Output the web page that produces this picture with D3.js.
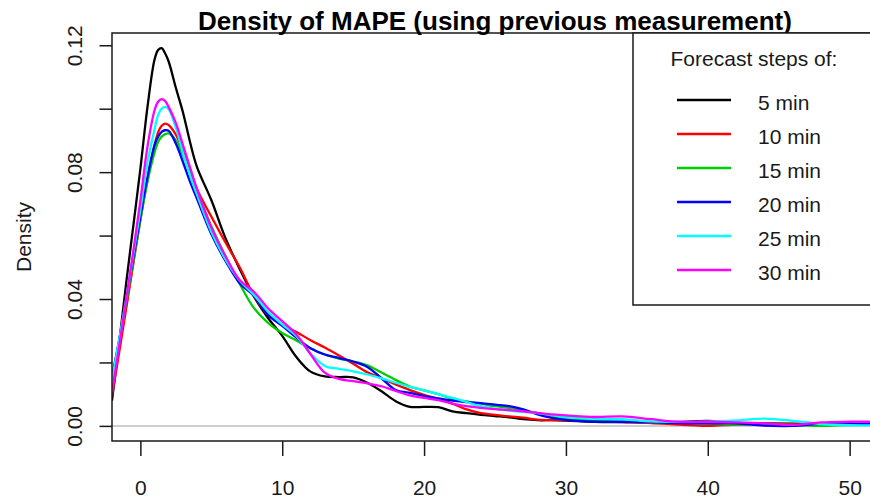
<!DOCTYPE html>
<html>
<head>
<meta charset="utf-8">
<script src="https://cdn.jsdelivr.net/npm/d3@7"></script>
<style>
  html, body { margin: 0; padding: 0; background: #fff; }
  svg { display: block; font-family: "Liberation Sans", Arial, sans-serif; }
</style>
</head>
<body>
<svg id="chart" width="870" height="498"></svg>
<script>
// MAPE grid (percent) on which the kernel density estimates are evaluated
const mape = [-2, -1.5, -1, -0.5, 0, 0.5, 1, 1.25, 1.5, 1.75, 2, 2.5, 3, 3.5, 4,
  5, 6, 7, 8, 9, 10, 11, 12, 13, 14, 15, 16, 17, 18, 19, 20, 21, 22, 23, 24, 25,
  26, 27, 28, 29, 30, 32, 34, 36, 38, 40, 42, 44, 46, 48, 50, 52];

// Density of the MAPE for each forecast horizon
const dens5 = [0.0080, 0.0260, 0.0450, 0.0630, 0.0810, 0.1005, 0.1155, 0.1185, 0.1191, 0.1174, 0.1148, 0.1066, 0.0989, 0.0895, 0.0815,
  0.0712, 0.0592, 0.0495, 0.0408, 0.0340, 0.0284, 0.0217, 0.0171, 0.0156, 0.0154, 0.0153, 0.0136, 0.0109, 0.0078, 0.0060, 0.0060, 0.0059, 0.0046, 0.0040, 0.0035, 0.0031,
  0.0027, 0.0021, 0.0018, 0.0018, 0.0017, 0.0013, 0.0012, 0.0011, 0.0012, 0.0016, 0.0009, 0.0008, 0.0007, 0.0006, 0.0006, 0.0006];
const dens10 = [0.0095, 0.0230, 0.0370, 0.0510, 0.0650, 0.0775, 0.0885, 0.0925, 0.0946, 0.0953, 0.0948, 0.0918, 0.0868, 0.0808, 0.0745,
  0.0660, 0.0578, 0.0500, 0.0412, 0.0350, 0.0319, 0.0296, 0.0270, 0.0247, 0.0222, 0.0196, 0.0169, 0.0150, 0.0131, 0.0113, 0.0098, 0.0085, 0.0070, 0.0052, 0.0040, 0.0035,
  0.0030, 0.0026, 0.0020, 0.0018, 0.0018, 0.0015, 0.0012, 0.0009, 0.0004, 0.0000, 0.0004, 0.0006, 0.0005, 0.0004, 0.0005, 0.0005];
const dens15 = [0.0145, 0.0260, 0.0390, 0.0520, 0.0650, 0.0770, 0.0862, 0.0895, 0.0912, 0.0920, 0.0922, 0.0900, 0.0855, 0.0800, 0.0742,
  0.0630, 0.0535, 0.0448, 0.0372, 0.0325, 0.0293, 0.0269, 0.0244, 0.0225, 0.0212, 0.0203, 0.0191, 0.0168, 0.0145, 0.0124, 0.0112, 0.0100, 0.0085, 0.0077, 0.0070, 0.0062,
  0.0057, 0.0049, 0.0040, 0.0031, 0.0022, 0.0016, 0.0013, 0.0012, 0.0010, 0.0007, 0.0004, 0.0005, 0.0003, 0.0000, 0.0003, 0.0004];
const dens20 = [0.0155, 0.0270, 0.0400, 0.0530, 0.0660, 0.0785, 0.0885, 0.0912, 0.0927, 0.0932, 0.0930, 0.0890, 0.0832, 0.0770, 0.0715,
  0.0605, 0.0520, 0.0450, 0.0410, 0.0350, 0.0315, 0.0278, 0.0245, 0.0225, 0.0214, 0.0203, 0.0186, 0.0150, 0.0113, 0.0104, 0.0094, 0.0087, 0.0080, 0.0075, 0.0072, 0.0067,
  0.0062, 0.0052, 0.0036, 0.0025, 0.0019, 0.0013, 0.0013, 0.0012, 0.0009, 0.0008, 0.0008, 0.0001, 0.0000, 0.0007, 0.0006, 0.0006];
const dens25 = [0.0145, 0.0270, 0.0400, 0.0540, 0.0680, 0.0830, 0.0935, 0.0980, 0.1000, 0.1006, 0.0998, 0.0940, 0.0862, 0.0790, 0.0728,
  0.0612, 0.0525, 0.0458, 0.0413, 0.0360, 0.0320, 0.0283, 0.0228, 0.0189, 0.0180, 0.0172, 0.0162, 0.0150, 0.0136, 0.0123, 0.0112, 0.0100, 0.0088, 0.0075, 0.0062, 0.0054,
  0.0048, 0.0044, 0.0040, 0.0034, 0.0028, 0.0023, 0.0021, 0.0014, 0.0013, 0.0013, 0.0017, 0.0023, 0.0016, 0.0006, 0.0002, 0.0002];
const dens30 = [0.0105, 0.0250, 0.0400, 0.0550, 0.0710, 0.0880, 0.0995, 0.1022, 0.1030, 0.1024, 0.1005, 0.0955, 0.0885, 0.0815, 0.0745,
  0.0625, 0.0535, 0.0460, 0.0423, 0.0371, 0.0330, 0.0288, 0.0226, 0.0168, 0.0148, 0.0141, 0.0134, 0.0125, 0.0110, 0.0096, 0.0088, 0.0081, 0.0070, 0.0062, 0.0057, 0.0053,
  0.0050, 0.0046, 0.0041, 0.0036, 0.0033, 0.0028, 0.0030, 0.0021, 0.0013, 0.0013, 0.0011, 0.0008, 0.0003, 0.0011, 0.0013, 0.0013];

const stepLabels = ["5 min", "10 min", "15 min", "20 min", "25 min", "30 min"];
const stepColors = ["#000000", "#FF0000", "#00CD00", "#0000FF", "#00FFFF", "#FF00FF"];
const xTicks = [0, 10, 20, 30, 40, 50];
const yTicks = [0, 0.02, 0.04, 0.06, 0.08, 0.10, 0.12];
const yLabelled = [0, 0.04, 0.08, 0.12];

const series = [dens5, dens10, dens15, dens20, dens25, dens30].map((d, i) => ({
  label: stepLabels[i],
  color: stepColors[i],
  values: mape.map((m, j) => ({ x: m, y: d[j] }))
}));

// Plot region (right edge lies just beyond the canvas)
const plotLeft = 112, plotRight = 878, plotTop = 33, plotBottom = 441;

const xLim = [0, 50];
const xPad = (xLim[1] - xLim[0]) * 0.04;
const x = d3.scaleLinear().domain([xLim[0] - xPad, xLim[1] + xPad]).range([plotLeft, plotRight]);

const yMax = d3.max(series, s => d3.max(s.values, v => v.y));
const yPad = yMax * 0.04;
const y = d3.scaleLinear().domain([-yPad, yMax + yPad]).range([plotBottom, plotTop]);

const svg = d3.select("#chart");
const ink = "#1a1a1a";

svg.append("defs").append("clipPath").attr("id", "plot-clip")
  .append("rect").attr("x", plotLeft).attr("y", plotTop)
  .attr("width", plotRight - plotLeft).attr("height", plotBottom - plotTop);

// Zero reference line
svg.append("line")
  .attr("x1", plotLeft).attr("x2", plotRight)
  .attr("y1", y(0)).attr("y2", y(0))
  .attr("stroke", "#BEBEBE").attr("stroke-width", 1.5);

// Density curves
const line = d3.line()
  .x(d => x(d.x))
  .y(d => y(d.y))
  .curve(d3.curveCatmullRom.alpha(0.5));

svg.append("g").attr("clip-path", "url(#plot-clip)")
  .selectAll("path")
  .data(series)
  .join("path")
  .attr("d", s => line(s.values))
  .attr("fill", "none")
  .attr("stroke", s => s.color)
  .attr("stroke-width", 2.3)
  .attr("stroke-linejoin", "round");

// X axis
const xAxis = svg.append("g")
  .attr("transform", `translate(0,${plotBottom})`)
  .call(d3.axisBottom(x).tickValues(xTicks).tickSize(15).tickFormat(d3.format("d")));
xAxis.select(".domain").remove();
xAxis.selectAll(".tick line").attr("stroke", ink).attr("stroke-width", 1.5);
xAxis.selectAll(".tick text")
  .attr("fill", ink)
  .attr("font-size", 21)
  .attr("font-family", "'Liberation Sans', Arial, sans-serif")
  .attr("dy", null)
  .attr("y", 54);

// Y axis
const yAxis = svg.append("g")
  .attr("transform", `translate(${plotLeft},0)`)
  .call(d3.axisLeft(y).tickValues(yTicks).tickSize(12.5)
    .tickFormat(d => yLabelled.some(v => Math.abs(v - d) < 1e-9) ? d3.format(".2f")(d) : ""));
yAxis.select(".domain").remove();
yAxis.selectAll(".tick line").attr("stroke", ink).attr("stroke-width", 1.5);
yAxis.selectAll(".tick text")
  .attr("fill", ink)
  .attr("font-size", 21)
  .attr("font-family", "'Liberation Sans', Arial, sans-serif")
  .attr("x", null).attr("dy", null)
  .attr("text-anchor", "middle")
  .attr("transform", `translate(${81.5 - plotLeft},0) rotate(-90)`);

// Plot frame
svg.append("path")
  .attr("d", `M${plotRight},${plotTop}H${plotLeft}V${plotBottom}H${plotRight}`)
  .attr("fill", "none").attr("stroke", ink).attr("stroke-width", 1.5);

// Axis title
svg.append("text")
  .attr("transform", `translate(31,${(plotTop + plotBottom) / 2}) rotate(-90)`)
  .attr("text-anchor", "middle")
  .attr("font-size", 21)
  .attr("fill", ink)
  .text("Density");

// Main title
svg.append("text")
  .attr("x", (plotLeft + plotRight) / 2).attr("y", 30)
  .attr("text-anchor", "middle")
  .attr("font-size", 26)
  .attr("font-weight", "bold")
  .attr("fill", "#000")
  .text("Density of MAPE (using previous measurement)");

// Legend
const legLeft = 633, legBottom = 305;
const legend = svg.append("g");
legend.append("rect")
  .attr("x", legLeft).attr("y", plotTop)
  .attr("width", plotRight - legLeft).attr("height", legBottom - plotTop)
  .attr("fill", "#fff").attr("stroke", ink).attr("stroke-width", 1.5);
legend.append("text")
  .attr("x", 754).attr("y", 66)
  .attr("text-anchor", "middle")
  .attr("font-size", 21)
  .attr("fill", ink)
  .text("Forecast steps of:");

const rowY = d3.scaleLinear().domain([0, stepLabels.length - 1]).range([100, 270]);
const rows = legend.selectAll("g.row")
  .data(series)
  .join("g").attr("class", "row")
  .attr("transform", (d, i) => `translate(0,${rowY(i)})`);
rows.append("line")
  .attr("x1", 677).attr("x2", 731)
  .attr("stroke", d => d.color).attr("stroke-width", 2.3);
rows.append("text")
  .attr("x", 758).attr("y", 9.5)
  .attr("font-size", 21)
  .attr("fill", ink)
  .text(d => d.label);
</script>
</body>
</html>
